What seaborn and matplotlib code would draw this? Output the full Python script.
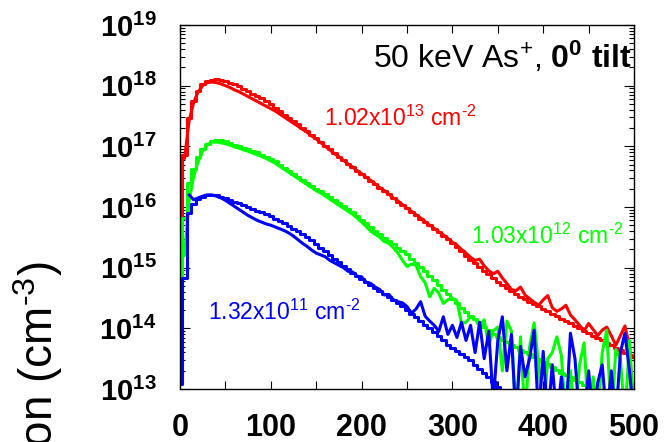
import numpy as np
import pandas as pd
import matplotlib
matplotlib.use("Agg")
import matplotlib.pyplot as plt
import seaborn as sns
from matplotlib.ticker import FixedLocator, LogLocator, NullFormatter

nan = float("nan")

# depth grid (nm)
depth_nm = list(range(0, 505, 5))

# log10 concentration values (cm^-3)
red_stair_log = [
    15.18, 16.86, 17.47, 17.75, 17.92, 18.03, 18.08, 18.10, 18.11, 18.10,
    18.08, 18.05, 18.02, 17.99, 17.95, 17.91, 17.87, 17.83, 17.79, 17.74,
    17.69, 17.64, 17.58, 17.52, 17.47, 17.41, 17.36, 17.30, 17.25, 17.19,
    17.13, 17.07, 17.01, 16.95, 16.89, 16.83, 16.77, 16.71, 16.66, 16.60,
    16.55, 16.49, 16.43, 16.38, 16.32, 16.26, 16.21, 16.15, 16.09, 16.04,
    15.98, 15.92, 15.87, 15.81, 15.75, 15.70, 15.64, 15.58, 15.53, 15.47,
    15.41, 15.34, 15.27, 15.20, 15.13, 15.07, 15.01, 14.95, 14.89, 14.83,
    14.76, 14.71, 14.66, 14.61, 14.56, 14.52, 14.48, 14.44, 14.40, 14.36,
    14.32, 14.28, 14.24, 14.20, 14.16, 14.12, 14.08, 14.04, 14.00, 13.96,
    13.92, 13.88, 13.84, 13.80, 13.76, 13.72, 13.68, 13.64, 13.60, 13.56,
    13.52]
red_line_log = [
    nan, 16.80, 17.42, 17.72, 17.90, 18.00, 18.05, 18.06, 18.05, 18.03,
    18.00, 17.97, 17.93, 17.90, 17.86, 17.82, 17.78, 17.74, 17.70, 17.66,
    17.62, 17.58, 17.53, 17.48, 17.43, 17.38, 17.33, 17.28, 17.23, 17.17,
    17.12, 17.06, 17.00, 16.94, 16.88, 16.83, 16.77, 16.71, 16.66, 16.60,
    16.55, 16.49, 16.44, 16.38, 16.32, 16.27, 16.21, 16.15, 16.10, 16.04,
    15.98, 15.93, 15.87, 15.82, 15.76, 15.70, 15.65, 15.59, 15.54, 15.48,
    15.42, 15.37, 15.30, 15.24, 15.17, 15.12, 15.14, 15.03, 14.95, 14.90,
    14.94, 14.83, 14.74, 14.64, 14.62, 14.68, 14.55, 14.49, 14.43, 14.38,
    14.47, 14.54, 14.34, 14.28, 14.32, 14.38, 14.22, 14.14, 14.05, 13.96,
    14.08, 13.98, 13.88, 13.97, 14.02, 13.88, 13.72, 13.88, 14.04, 13.70,
    12.50]
green_stair_log = [
    13.86, 15.82, 16.39, 16.62, 16.82, 16.96, 17.04, 17.08, 17.10, 17.10,
    17.08, 17.06, 17.03, 17.01, 16.98, 16.96, 16.93, 16.90, 16.86, 16.83,
    16.79, 16.75, 16.70, 16.65, 16.60, 16.55, 16.50, 16.45, 16.40, 16.35,
    16.30, 16.26, 16.21, 16.16, 16.11, 16.06, 16.01, 15.96, 15.91, 15.85,
    15.79, 15.73, 15.67, 15.61, 15.55, 15.49, 15.44, 15.39, 15.33, 15.28,
    15.22, 15.15, 15.08, 15.01, 14.94, 14.86, 14.79, 14.72, 14.64, 14.57,
    14.49, 14.41, 14.33, 14.27, 14.21, 14.15, 14.09, 14.03, 13.97, 13.91,
    13.85, 13.81, 13.77, 13.73, 13.69, 13.65, 13.61, 13.57, 13.53, 13.49,
    13.45, 13.41, 13.37, 13.32, 13.27, 13.23, 13.19, 13.15, 13.11, 13.07,
    13.03, 12.98, 12.94, 12.90, 12.85, 12.80, 12.75, 12.70, 12.65, 12.60,
    12.55]
green_line_log = [
    nan, 15.20, 16.10, 16.50, 16.75, 16.92, 17.02, 17.07, 17.07, 17.06,
    17.04, 17.02, 16.99, 16.97, 16.94, 16.92, 16.89, 16.86, 16.83, 16.80,
    16.76, 16.72, 16.67, 16.62, 16.57, 16.52, 16.47, 16.42, 16.37, 16.32,
    16.27, 16.23, 16.18, 16.13, 16.08, 16.03, 15.98, 15.93, 15.88, 15.82,
    15.75, 15.68, 15.60, 15.55, 15.50, 15.43, 15.40, 15.33, 15.24, 15.12,
    15.02, 15.06, 15.04, 14.85, 14.75, 14.52, 14.66, 14.58, 14.41, 14.47,
    14.50, 14.45, 14.08, 14.10, 14.19, 14.15, 14.05, 14.14, 13.72, 13.96,
    14.02, 13.30, 14.12, 13.95, 12.50, 13.86, 12.50, 13.70, 14.09, 13.40,
    12.50, 13.50, 13.60, 13.86, 13.55, 12.50, 13.30, 12.50, 13.40, 13.76,
    12.50, 13.20, 12.50, 13.60, 13.97, 12.50, 13.65, 13.50, 12.50, 13.80,
    12.50]
blue_stair_log = [
    13.08, 14.83, 15.90, 16.05, 16.13, 16.17, 16.19, 16.20, 16.19, 16.17,
    16.15, 16.12, 16.09, 16.06, 16.03, 16.00, 15.97, 15.94, 15.91, 15.88,
    15.85, 15.81, 15.77, 15.73, 15.69, 15.64, 15.60, 15.55, 15.50, 15.45,
    15.39, 15.33, 15.27, 15.21, 15.15, 15.09, 15.03, 14.97, 14.92, 14.87,
    14.82, 14.77, 14.72, 14.67, 14.62, 14.57, 14.52, 14.47, 14.42, 14.36,
    14.30, 14.24, 14.18, 14.12, 14.06, 14.00, 13.94, 13.87, 13.80, 13.73,
    13.68, 13.63, 13.58, 13.53, 13.47, 13.40, 13.33, 13.26, 13.19, 13.12,
    13.03, 12.93, 12.85, 12.80, 12.75, 12.70, 12.65, 12.60, 12.55, 12.50,
    12.50, 12.50, 12.50, 12.50, 12.50, 12.50, 12.50, 12.50, 12.50, 12.50,
    12.50, 12.50, 12.50, 12.50, 12.50, 12.50, 12.50, 12.50, 12.50, 12.50,
    12.50]
blue_line_log = [
    nan, nan, 16.20, 16.12, 16.15, 16.18, 16.20, 16.20, 16.18, 16.15,
    16.11, 16.06, 16.01, 15.96, 15.91, 15.86, 15.82, 15.78, 15.75, 15.72,
    15.70, 15.67, 15.64, 15.61, 15.57, 15.52, 15.46, 15.40, 15.35, 15.29,
    15.24, 15.21, 15.18, 15.12, 15.08, 15.04, 15.00, 14.94, 14.93, 14.86,
    14.85, 14.76, 14.74, 14.68, 14.64, 14.55, 14.56, 14.47, 14.44, 14.42,
    14.36, 14.25, 14.32, 14.44, 14.20, 14.12, 14.05, 13.95, 14.19, 13.90,
    14.05, 13.85, 14.10, 13.80, 14.05, 13.60, 14.10, 13.50, 13.95, 12.80,
    13.80, 14.19, 13.30, 13.90, 12.50, 13.70, 13.20, 13.50, 13.97, 12.50,
    13.62, 12.50, 13.40, 12.50, 13.20, 12.50, 13.92, 13.50, 12.50, 12.50,
    13.30, 12.50, 13.10, 13.40, 12.50, 13.30, 12.50, 13.60, 13.92, 13.30,
    12.50]

dose_labels = [r"1.02x10$^{13}$ cm$^{\text{-}2}$",
               r"1.03x10$^{12}$ cm$^{\text{-}2}$",
               r"1.32x10$^{11}$ cm$^{\text{-}2}$"]
x_tick_values = [0, 100, 200, 300, 400, 500]
y_exponents = [13, 14, 15, 16, 17, 18, 19]

curves = [
    ("red_stair", red_stair_log, "#FF0000", "steps-mid"),
    ("red_line", red_line_log, "#FF0000", "default"),
    ("green_stair", green_stair_log, "#00FF00", "steps-mid"),
    ("green_line", green_line_log, "#00FF00", "default"),
    ("blue_stair", blue_stair_log, "#0000FF", "steps-mid"),
    ("blue_line", blue_line_log, "#0000FF", "default"),
]

rows = []
for name, vals, _, _ in curves:
    assert len(vals) == len(depth_nm), name
    for d, v in zip(depth_nm, vals):
        if not np.isnan(v):
            rows.append({"depth": d, "conc": 10.0 ** v, "curve": name})
df = pd.DataFrame(rows)

sns.set_style("ticks")
plt.rcParams["font.family"] = ["Liberation Sans", "DejaVu Sans"]
plt.rcParams["mathtext.fontset"] = "custom"
plt.rcParams["mathtext.rm"] = "Liberation Sans"
plt.rcParams["mathtext.bf"] = "Liberation Sans:bold"
plt.rcParams["mathtext.it"] = "Liberation Sans:italic"
plt.rcParams["mathtext.default"] = "regular"
for key in ["text.color", "axes.labelcolor", "xtick.color", "ytick.color", "axes.edgecolor"]:
    plt.rcParams[key] = "black"

fig = plt.figure(figsize=(6.71, 4.42), dpi=100)
ax = fig.add_axes([180 / 671, 1 - 389 / 442, (634 - 180) / 671, (389 - 25) / 442])

for name, _, color, ds in curves:
    sns.lineplot(data=df[df["curve"] == name], x="depth", y="conc", ax=ax,
                 color=color, lw=2.2, drawstyle=ds, estimator=None, sort=False,
                 errorbar=None, legend=False)

ax.set_yscale("log")
ax.set_ylim(1e13, 1e19)
ax.set_xlim(0, 500)
ax.set_xlabel("")
ax.set_ylabel("")

ax.set_xticks(x_tick_values, labels=[str(v) for v in x_tick_values],
              fontweight="bold", fontsize=22, color="black")
ax.xaxis.set_minor_locator(FixedLocator([50, 150, 250, 350, 450]))
ax.set_yticks([10.0 ** e for e in y_exponents],
              labels=[r"$\mathbf{10^{%d}}$" % e for e in y_exponents], fontsize=21,
              color="black")
ax.yaxis.set_minor_locator(LogLocator(base=10, subs=np.arange(2, 10)))
ax.yaxis.set_minor_formatter(NullFormatter())

ax.tick_params(which="both", direction="in", top=True, right=True, width=0.8, color="black")
ax.tick_params(axis="x", which="major", length=6, pad=17)
ax.tick_params(axis="x", which="minor", length=6)
ax.tick_params(axis="y", which="major", length=7, pad=17)
ax.tick_params(axis="y", which="minor", length=3.5)
for sp in ax.spines.values():
    sp.set_linewidth(1.0)
    sp.set_color("black")
    sp.set_visible(True)

ax.text(498, 10 ** 18.29, r"50 keV As$^{+}$, $\mathbf{0^{0}\ tilt}$",
        ha="right", va="baseline", fontsize=23, color="black")
ax.text(159, 10 ** 17.34, dose_labels[0], color="#FF0000", fontsize=16.5, va="baseline")
ax.text(320, 10 ** 15.39, dose_labels[1], color="#00FF00", fontsize=16.5, va="baseline")
ax.text(31, 10 ** 14.14, dose_labels[2], color="#0000FF", fontsize=16.5, va="baseline")

fig.text(38 / 671, 1 - 262 / 442, r"Concentration (cm$^{\text{-}3}$)", rotation=90,
         ha="center", va="top", fontsize=33, color="black")

fig.savefig("out.png", dpi=100)
